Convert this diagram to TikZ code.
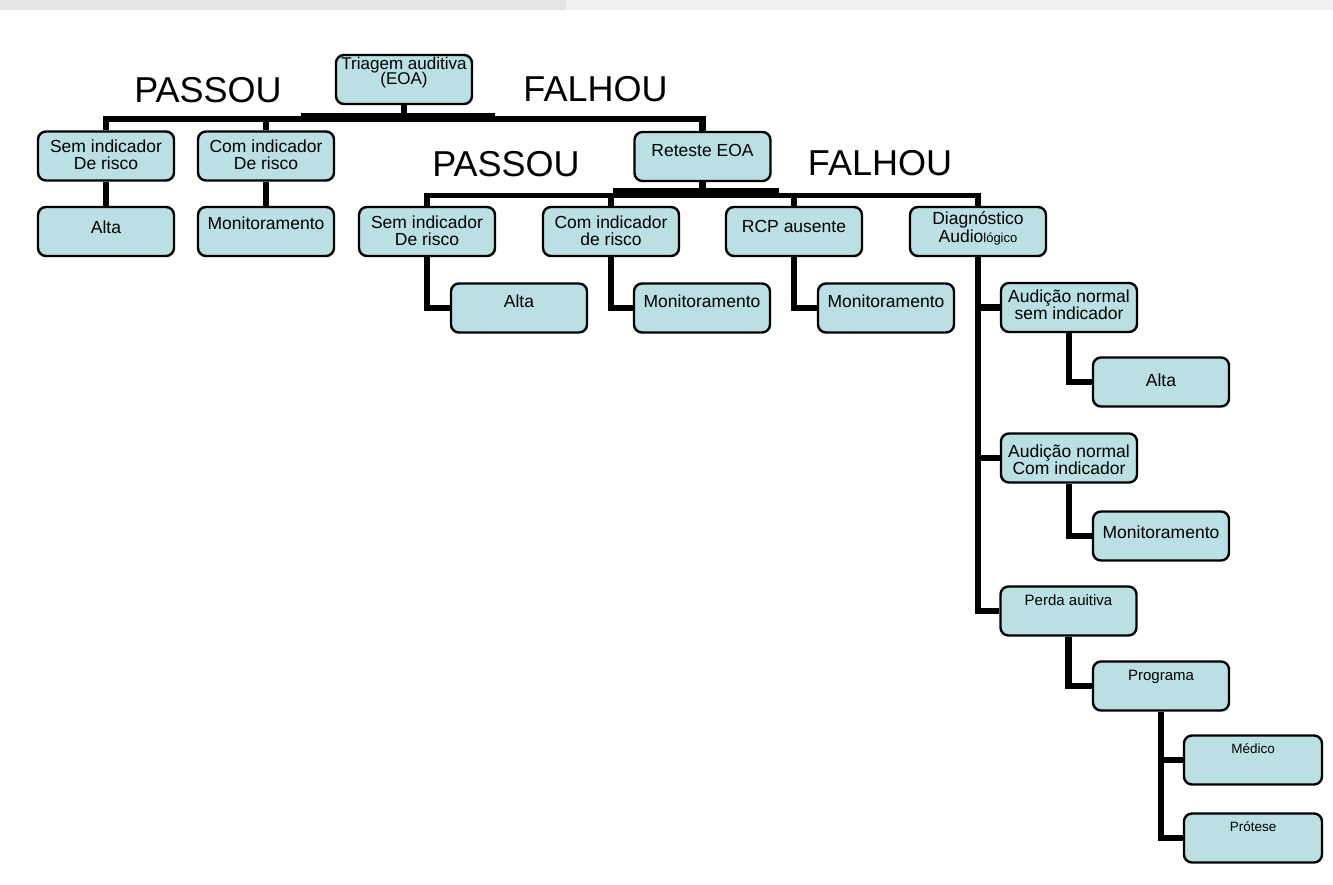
\documentclass[tikz,border=0pt]{standalone}
\usepackage{fontspec}
\setmainfont{Liberation Sans}
\definecolor{boxfill}{HTML}{BBE0E3}
\definecolor{stripA}{HTML}{E5E5E5}
\definecolor{stripB}{HTML}{F1F1F1}
\newcommand\boxtxt[2]{\raisebox{#1pt}[0pt][0pt]{\vbox{\lineskiplimit=-100pt\halign{\hfil##\hfil\cr#2\crcr}}}}
\tikzset{
  box/.style={draw=black, line width=2.4pt, fill=boxfill, rounded corners=8pt,
    minimum width=136pt, minimum height=49pt, inner sep=0pt,
    font=\fontsize{17.5}{17}\selectfont},
  smallfont/.style={font=\fontsize{15}{15}\selectfont},
  tinyfont/.style={font=\fontsize{13.5}{14}\selectfont},
  big/.style={font=\fontsize{36}{36}\selectfont, inner sep=0pt, anchor=base},
  conn/.style={line width=6.5pt, line join=miter, draw=black},
  connthin/.style={line width=5.5pt, line join=miter, draw=black},
}
\begin{document}
\begin{tikzpicture}[x=1pt,y=-1pt]
\useasboundingbox (0,0) rectangle (1333,885);
\fill[stripA] (0,0) rectangle (566,10);
\fill[stripB] (566,0) rectangle (1333,10);

% level 0
\node[box, font=\fontsize{17}{15}\selectfont] (tri) at (404,79.5) {\boxtxt{-5}{Triagem auditiva\cr(EOA)}};
\node[big] (p1) at (208,103) {PASSOU};
\node[big] (f1) at (595.5,102) {FALHOU};

% level 1
\node[box] (sem1) at (106,156) {\boxtxt{-14}{Sem indicador\cr De risco}};
\node[box] (com1) at (266,156) {\boxtxt{-14}{Com indicador\cr De risco}};
\node[box] (alta1) at (106,231.5) {\boxtxt{-2.5}{Alta}};
\node[box] (mon1) at (266,231.5) {\boxtxt{2}{Monitoramento}};
\node[box] (ret) at (702.5,156.5) {\boxtxt{0}{Reteste EOA}};
\node[big] (p2) at (506,177) {PASSOU};
\node[big] (f2) at (880,176) {FALHOU};

% level 2
\node[box] (sem2) at (427,231.5) {\boxtxt{-14.5}{Sem indicador\cr De risco}};
\node[box] (com2) at (611,231.5) {\boxtxt{-14.5}{Com indicador\cr de risco}};
\node[box] (rcp) at (794,231.5) {\boxtxt{-1.5}{RCP ausente}};
\node[box, font=\fontsize{17.5}{18}\selectfont] (diag) at (978,231.5) {\boxtxt{-11.5}{Diagnóstico\cr Audio{\fontsize{13}{13}\selectfont lógico}}};

\node[box] (alta2) at (519,308) {\boxtxt{0}{Alta}};
\node[box] (mon2) at (702,308) {\boxtxt{0}{Monitoramento}};
\node[box] (mon3) at (886,308) {\boxtxt{0}{Monitoramento}};

% diagnostic subtree
\node[box] (aud1) at (1069,307.5) {\boxtxt{-12.5}{Audição normal\cr sem indicador}};
\node[box] (alta3) at (1161,382) {\boxtxt{-4.5}{Alta}};
\node[box] (aud2) at (1069,458) {\boxtxt{-16}{Audição normal\cr Com indicador}};
\node[box] (mon4) at (1161,536) {\boxtxt{-2}{Monitoramento}};
\node[box, smallfont] (perda) at (1068.5,611) {\boxtxt{6}{Perda auitiva}};
\node[box, smallfont] (prog) at (1161,686) {\boxtxt{6}{Programa}};
\node[box, tinyfont, minimum width=138pt] (med) at (1253,760) {\boxtxt{7}{Médico}};
\node[box, tinyfont, minimum width=138pt] (prot) at (1253,838) {\boxtxt{7}{Prótese}};

% connectors
\coordinate (L1) at (0,119);
\coordinate (L2) at (0,195.5);
\draw[conn] (sem1.north) -- (sem1.north |- L1) -- (ret.north |- L1) -- (ret.north);
\draw[conn] (tri.south) -- (tri.south |- L1);
\draw[conn] (com1.north) -- (com1.north |- L1);
\fill (301,113) rectangle (495,119);

\draw[connthin] (sem2.north) -- (sem2.north |- L2) -- (diag.north |- L2) -- (diag.north);
\draw[conn] (ret.south) -- (ret.south |- L2);
\draw[conn] (com2.north) -- (com2.north |- L2);
\draw[conn] (rcp.north) -- (rcp.north |- L2);
\fill (613,188) rectangle (779,196);

\draw[conn] (sem1.south) -- (alta1.north);
\draw[conn] (com1.south) -- (mon1.north);
\draw[conn] (sem2.south) |- (alta2.west);
\draw[conn] (com2.south) |- (mon2.west);
\draw[conn] (rcp.south) |- (mon3.west);
\draw[conn] (diag.south) |- (aud1.west);
\draw[conn] (diag.south) |- (aud2.west);
\draw[conn] (diag.south) |- (perda.west);
\draw[conn] (aud1.south) |- (alta3.west);
\draw[conn] (aud2.south) |- (mon4.west);
\draw[conn] (perda.south) |- (prog.west);
\draw[conn] (prog.south) |- (med.west);
\draw[conn] (prog.south) |- (prot.west);
\end{tikzpicture}
\end{document}
